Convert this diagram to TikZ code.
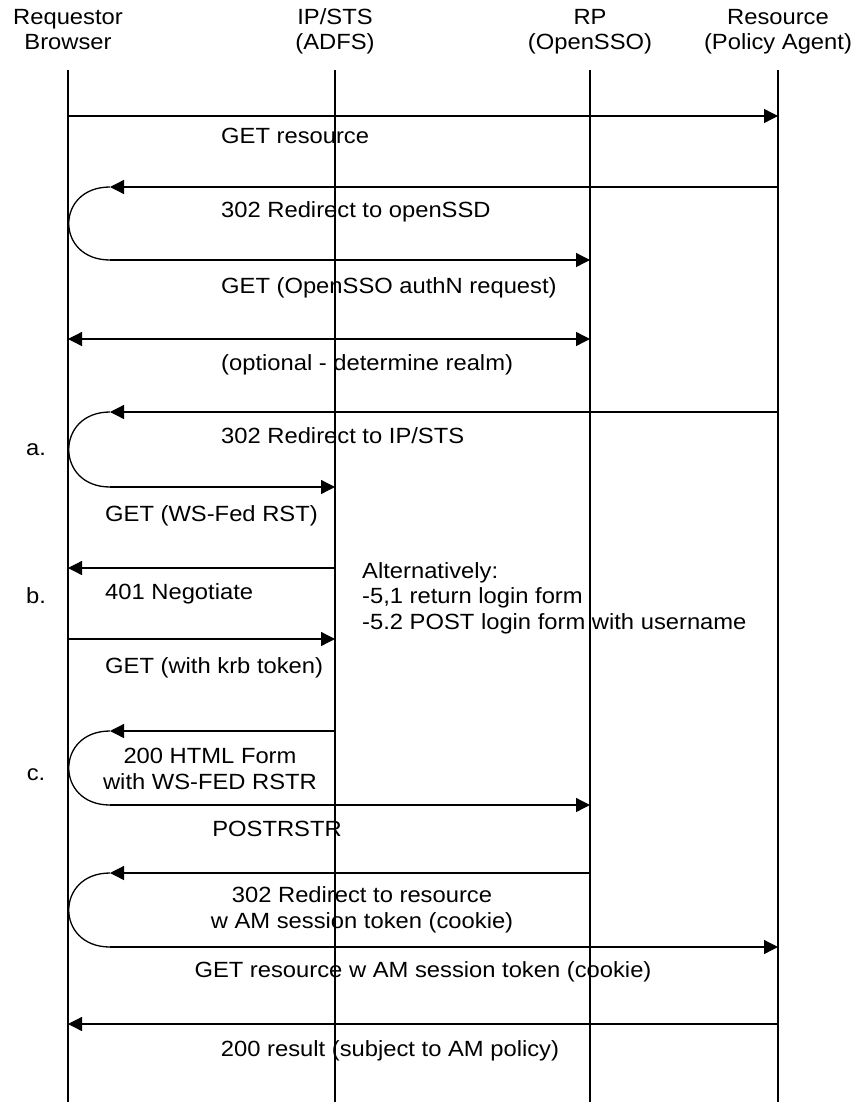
\documentclass[tikz,border=0pt]{standalone}
\usepackage{fontspec}
\setmainfont{Liberation Sans}[FakeStretch=1.08]
\usetikzlibrary{arrows.meta}
\begin{document}
\begin{tikzpicture}[x=1pt,y=-1pt,
  lbl/.style={font=\fontsize{22}{25.5}\selectfont, inner sep=0pt, anchor=base},
  msg/.style={line width=1.3pt, -{Triangle[length=14pt,width=14pt]}},
  dmsg/.style={line width=1.3pt, {Triangle[length=14pt,width=14pt]}-{Triangle[length=14pt,width=14pt]}},
  lifeline/.style={line width=1.2pt},
  loopcurve/.style={line width=1.3pt}]
\useasboundingbox (0,0) rectangle (853,1102);
\fill[white] (0,0) rectangle (853,1102);

% headers (base = last line)
\node[lbl, align=center] (hA) at (68,50) {Requestor\\Browser};
\node[lbl, align=center] (hB) at (335,50) {IP/STS\\(ADFS)};
\node[lbl, align=center] (hC) at (590,50) {RP\\(OpenSSO)};
\node[lbl, align=center] (hD) at (778,50) {Resource\\(Policy Agent)};

% lifelines
\coordinate (At) at (68,70);  \coordinate (Ab) at (68,1102);
\coordinate (Bt) at (335,70); \coordinate (Bb) at (335,1102);
\coordinate (Ct) at (590,70); \coordinate (Cb) at (590,1102);
\coordinate (Dt) at (778,70); \coordinate (Db) at (778,1102);
\draw[lifeline] (At) -- (Ab);
\draw[lifeline] (Bt) -- (Bb);
\draw[lifeline] (Ct) -- (Cb);
\draw[lifeline] (Dt) -- (Db);

% 1 GET resource
\coordinate (m1a) at (68,116); \coordinate (m1d) at (778,116);
\draw[msg] (m1a) -- (m1d);
\node[lbl, anchor=base west] (t1) at (221,144) {GET resource};

% 2 302 redirect to openSSD + GET
\coordinate (m2d) at (778,187); \coordinate (m2l) at (110,187);
\coordinate (m3l) at (110,260); \coordinate (m3c) at (590,260);
\draw[msg] (m2d) -- (m2l);
\draw[loopcurve] (m2l) .. controls (55,187) and (55,260) .. (m3l);
\draw[msg] (m3l) -- (m3c);
\node[lbl, anchor=base west] (t2) at (221,217) {302 Redirect to openSSD};
\node[lbl, anchor=base west] (t3) at (221,293) {GET (OpenSSO authN request)};

% 3 optional
\coordinate (m4a) at (68,339); \coordinate (m4c) at (590,339);
\draw[dmsg] (m4a) -- (m4c);
\node[lbl, anchor=base west] (t4) at (221,370) {(optional - determine realm)};

% 4 302 redirect to IP/STS + GET WS-Fed
\coordinate (m5d) at (778,412); \coordinate (m5l) at (110,412);
\coordinate (m6l) at (110,487); \coordinate (m6b) at (335,487);
\draw[msg] (m5d) -- (m5l);
\draw[loopcurve] (m5l) .. controls (55,412) and (55,487) .. (m6l);
\draw[msg] (m6l) -- (m6b);
\node[lbl, anchor=base west] (t5) at (221,443) {302 Redirect to IP/STS};
\node[lbl, anchor=base west] (t6) at (105,521) {GET (WS-Fed RST)};
\node[lbl] (la) at (36,455) {a.};

% 5 401 negotiate
\coordinate (m7b) at (335,568); \coordinate (m7a) at (68,568);
\draw[msg] (m7b) -- (m7a);
\node[lbl, anchor=base west] (t7) at (105,599) {401 Negotiate};
\node[lbl] (lb) at (36,603) {b.};

% 6 GET with krb
\coordinate (m8a) at (68,639); \coordinate (m8b) at (335,639);
\draw[msg] (m8a) -- (m8b);
\node[lbl, anchor=base west] (t8) at (105,673) {GET (with krb token)};

\node[lbl, anchor=base west, align=left] (alt) at (362,629) {Alternatively:\\-5,1 return login form\\-5.2 POST login form with username};

% 7 200 HTML form + POST RSTR
\coordinate (m9b) at (335,731); \coordinate (m9l) at (110,731);
\coordinate (m10l) at (110,805); \coordinate (m10c) at (590,805);
\draw[msg] (m9b) -- (m9l);
\draw[loopcurve] (m9l) .. controls (55,731) and (55,805) .. (m10l);
\draw[msg] (m10l) -- (m10c);
\node[lbl, align=center] (t9) at (210,789) {200 HTML Form\\with WS-FED RSTR};
\node[lbl] (t10) at (277,836) {POSTRSTR};
\node[lbl] (lc) at (36,780) {c.};

% 8 302 redirect to resource + GET resource w token
\coordinate (m11c) at (590,873); \coordinate (m11l) at (110,873);
\coordinate (m12l) at (110,947); \coordinate (m12d) at (778,947);
\draw[msg] (m11c) -- (m11l);
\draw[loopcurve] (m11l) .. controls (55,873) and (55,947) .. (m12l);
\draw[msg] (m12l) -- (m12d);
\node[lbl, align=center] (t11) at (362,928) {302 Redirect to resource\\w AM session token (cookie)};
\node[lbl] (t12) at (423,977) {GET resource w AM session token (cookie)};

% 9 200 result
\coordinate (m13d) at (778,1024); \coordinate (m13a) at (68,1024);
\draw[msg] (m13d) -- (m13a);
\node[lbl] (t13) at (390,1056) {200 result (subject to AM policy)};
\end{tikzpicture}
\end{document}
